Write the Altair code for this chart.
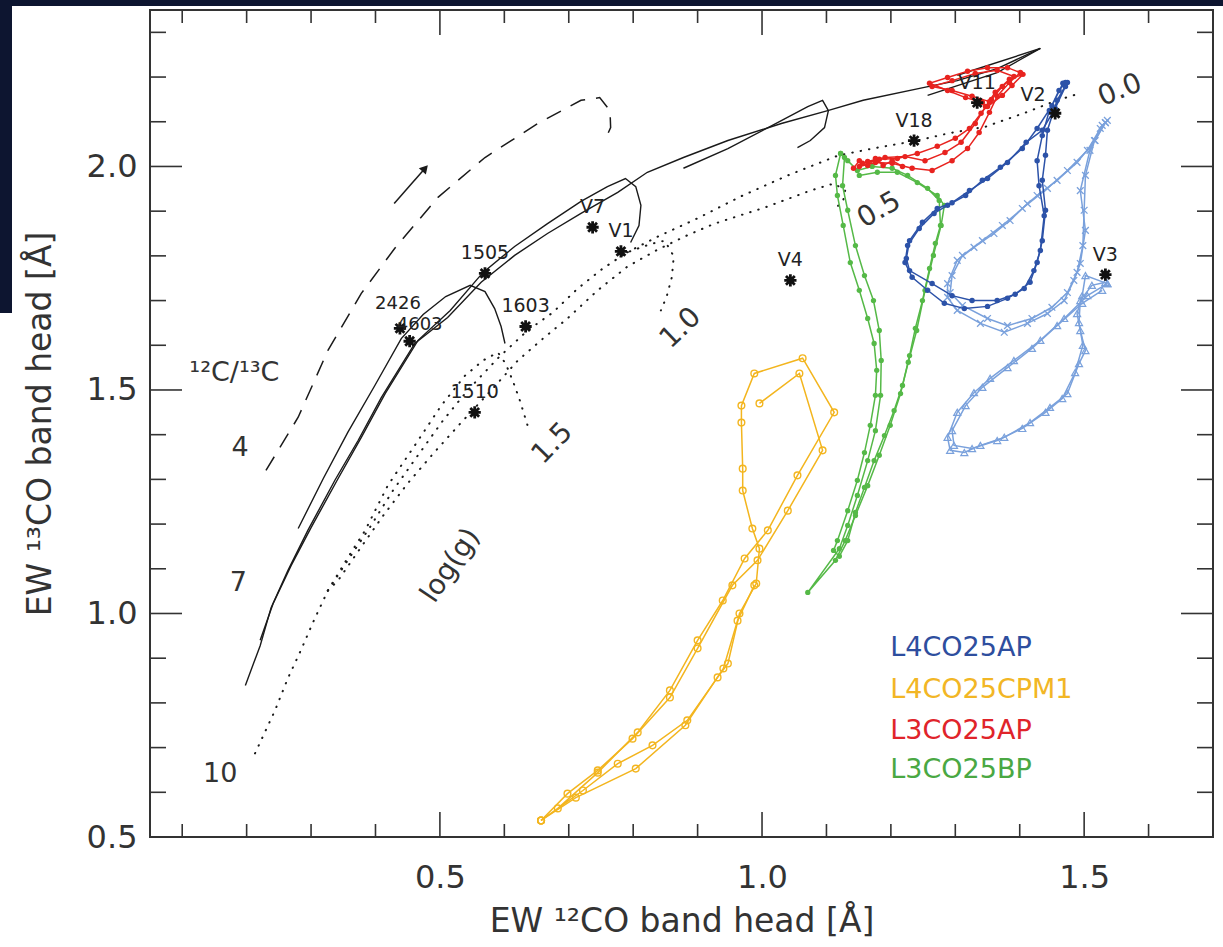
import altair as alt
import pandas as pd

FONT = "DejaVu Sans"
INK = "#333333"
W, H = 1063, 827

# ---------------- axis ticks ----------------
x_major = [0.5, 1.0, 1.5]
x_minor = [0.1, 0.2, 0.3, 0.4, 0.6, 0.7, 0.8, 0.9, 1.1, 1.2, 1.3, 1.4, 1.6]
y_major = [0.5, 1.0, 1.5, 2.0]
y_minor = [0.6, 0.7, 0.8, 0.9, 1.1, 1.2, 1.3, 1.4, 1.6, 1.7, 1.8, 1.9, 2.1, 2.2, 2.3]

# ---------------- black model tracks ----------------
solid_00 = [(0.198, 0.839), (0.221, 0.928), (0.238, 1.013), (0.264, 1.096), (0.295, 1.186), (0.337, 1.298),
            (0.373, 1.387), (0.409, 1.483), (0.461, 1.604), (0.512, 1.662), (0.564, 1.741), (0.616, 1.801),
            (0.667, 1.850), (0.719, 1.895), (0.776, 1.942), (0.822, 1.987), (0.878, 2.020), (0.947, 2.058),
            (1.030, 2.096), (1.102, 2.125), (1.157, 2.148), (1.252, 2.177), (1.303, 2.192), (1.365, 2.219),
            (1.432, 2.264)]
solid_10 = [(0.221, 0.940), (0.241, 1.022), (0.269, 1.107), (0.300, 1.192), (0.342, 1.302), (0.378, 1.394),
            (0.415, 1.492), (0.466, 1.611), (0.516, 1.678), (0.567, 1.763), (0.616, 1.821), (0.667, 1.872),
            (0.719, 1.922), (0.760, 1.955), (0.788, 1.973), (0.804, 1.955), (0.812, 1.913), (0.809, 1.868),
            (0.796, 1.830)]
solid_15 = [(0.280, 1.190), (0.319, 1.302), (0.357, 1.405), (0.399, 1.510), (0.440, 1.615), (0.474, 1.669),
            (0.509, 1.709), (0.547, 1.734), (0.570, 1.720), (0.585, 1.682), (0.595, 1.642), (0.601, 1.604)]
solid_05 = [(0.878, 1.996), (0.947, 2.040), (1.016, 2.092), (1.071, 2.134), (1.094, 2.148), (1.103, 2.125),
            (1.097, 2.087), (1.075, 2.058), (1.055, 2.042)]
solid_w1 = [(1.257, 2.159), (1.365, 2.210), (1.432, 2.264)]
solid_w2 = [(1.303, 2.204), (1.432, 2.264)]

dashed_4 = [(0.230, 1.320), (0.280, 1.439), (0.326, 1.588), (0.378, 1.716), (0.430, 1.817), (0.497, 1.931),
            (0.570, 2.020), (0.652, 2.096), (0.719, 2.148), (0.748, 2.154), (0.764, 2.125), (0.765, 2.087),
            (0.756, 2.058)]
arrow = [(0.429, 1.917), (0.477, 1.996)]

dotted_15 = [(0.213, 0.687), (0.244, 0.783), (0.264, 0.855), (0.284, 0.917), (0.303, 0.980), (0.326, 1.051),
             (0.357, 1.125), (0.384, 1.186), (0.419, 1.286), (0.461, 1.376), (0.502, 1.465), (0.539, 1.532),
             (0.567, 1.566), (0.590, 1.584), (0.602, 1.559), (0.613, 1.521), (0.624, 1.477), (0.636, 1.421)]
dotted_10 = [(0.326, 1.051), (0.357, 1.119), (0.391, 1.192), (0.427, 1.275), (0.466, 1.354), (0.505, 1.432),
             (0.543, 1.499), (0.590, 1.571), (0.636, 1.633), (0.675, 1.673), (0.714, 1.727), (0.753, 1.772),
             (0.791, 1.808), (0.826, 1.826), (0.849, 1.834), (0.863, 1.799), (0.860, 1.752), (0.852, 1.709),
             (0.843, 1.678)]
dotted_05 = [(0.326, 1.051), (0.342, 1.074), (0.376, 1.145), (0.412, 1.219), (0.450, 1.291), (0.491, 1.360),
             (0.533, 1.427), (0.582, 1.503), (0.621, 1.566), (0.660, 1.615), (0.698, 1.660), (0.745, 1.723),
             (0.791, 1.776), (0.838, 1.814), (0.884, 1.846), (0.926, 1.872), (1.004, 1.908), (1.075, 1.946),
             (1.112, 1.962), (1.129, 1.946), (1.126, 1.924), (1.114, 1.906)]
dotted_00 = [(0.791, 1.808), (0.838, 1.843), (0.900, 1.884), (0.967, 1.933), (1.040, 1.980), (1.119, 2.025),
             (1.179, 2.042), (1.241, 2.058), (1.289, 2.074), (1.347, 2.089), (1.410, 2.121), (1.458, 2.148),
             (1.492, 2.163)]

# ---------------- coloured model runs ----------------
red_runs = {
    "r1": [(1.151, 2.000), (1.176, 2.009), (1.202, 2.007), (1.233, 1.996), (1.264, 1.991), (1.295, 2.013),
           (1.319, 2.040), (1.337, 2.076), (1.353, 2.121), (1.365, 2.157), (1.384, 2.188), (1.401, 2.210),
           (1.381, 2.221), (1.350, 2.221), (1.319, 2.213), (1.288, 2.199), (1.260, 2.186), (1.288, 2.170),
           (1.316, 2.154), (1.342, 2.143)],
    "r2": [(1.156, 2.007), (1.182, 2.016), (1.210, 2.018), (1.241, 2.029), (1.272, 2.045), (1.300, 2.063),
           (1.322, 2.085), (1.340, 2.119), (1.356, 2.150), (1.373, 2.179), (1.391, 2.201), (1.365, 2.215),
           (1.331, 2.208), (1.295, 2.192), (1.264, 2.179), (1.295, 2.170), (1.326, 2.157), (1.353, 2.145)],
    "r3": [(1.164, 2.011), (1.191, 2.020), (1.222, 2.022), (1.253, 2.013), (1.284, 2.031), (1.309, 2.054),
           (1.331, 2.096), (1.347, 2.134), (1.362, 2.166), (1.384, 2.195), (1.405, 2.206), (1.388, 2.181),
           (1.373, 2.159), (1.350, 2.134)],
    "r4": [(1.142, 1.996), (1.151, 2.013), (1.164, 2.002), (1.176, 2.018), (1.188, 2.002), (1.202, 2.013),
           (1.218, 2.000)],
}
darkblue_runs = {
    "b1": [(1.467, 2.186), (1.450, 2.136), (1.427, 2.085), (1.404, 2.040), (1.370, 1.998), (1.342, 1.969),
           (1.316, 1.935), (1.288, 1.913), (1.267, 1.895), (1.244, 1.861), (1.226, 1.823), (1.222, 1.785),
           (1.233, 1.752), (1.257, 1.723), (1.283, 1.694), (1.314, 1.682), (1.350, 1.687), (1.381, 1.705),
           (1.407, 1.727), (1.422, 1.767), (1.432, 1.812), (1.438, 1.890), (1.430, 1.957), (1.427, 2.013),
           (1.435, 2.069), (1.446, 2.125), (1.461, 2.170), (1.471, 2.188)],
    "b2": [(1.471, 2.179), (1.455, 2.130), (1.435, 2.081), (1.410, 2.054), (1.381, 2.009), (1.350, 1.973),
           (1.322, 1.946), (1.295, 1.919), (1.272, 1.906), (1.249, 1.875), (1.229, 1.834), (1.224, 1.794),
           (1.229, 1.767), (1.264, 1.738), (1.295, 1.711), (1.326, 1.700), (1.365, 1.700), (1.393, 1.714),
           (1.416, 1.741), (1.427, 1.785), (1.435, 1.834), (1.440, 1.902), (1.435, 1.969), (1.440, 2.025),
           (1.443, 2.081), (1.458, 2.148), (1.474, 2.188)],
}
lightblue_x_runs = {
    "x1": [(1.533, 2.098), (1.517, 2.058), (1.489, 2.009), (1.458, 1.969), (1.427, 1.935), (1.412, 1.917),
           (1.385, 1.879), (1.360, 1.850), (1.329, 1.819), (1.303, 1.790), (1.288, 1.738), (1.288, 1.707),
           (1.303, 1.678), (1.339, 1.649), (1.376, 1.629), (1.412, 1.649), (1.443, 1.671), (1.469, 1.700),
           (1.484, 1.745), (1.494, 1.783), (1.502, 1.857), (1.494, 1.946), (1.509, 2.036), (1.525, 2.085),
           (1.536, 2.103)],
    "x2": [(1.528, 2.092), (1.505, 2.036), (1.474, 1.991), (1.443, 1.951), (1.404, 1.906), (1.373, 1.868),
           (1.342, 1.834), (1.311, 1.801), (1.295, 1.756), (1.292, 1.718), (1.311, 1.689), (1.350, 1.660),
           (1.381, 1.644), (1.419, 1.660), (1.450, 1.685), (1.474, 1.718), (1.489, 1.763), (1.498, 1.823),
           (1.500, 1.902), (1.502, 1.980), (1.516, 2.058), (1.533, 2.098)],
}
lightblue_t_runs = {
    "t1": [(1.536, 1.738), (1.505, 1.711), (1.469, 1.660), (1.432, 1.611), (1.391, 1.566), (1.354, 1.526),
           (1.329, 1.494), (1.303, 1.450), (1.288, 1.394), (1.292, 1.365), (1.314, 1.360), (1.339, 1.376),
           (1.376, 1.394), (1.416, 1.427), (1.447, 1.461), (1.474, 1.492), (1.492, 1.559), (1.502, 1.588),
           (1.494, 1.633), (1.489, 1.671), (1.497, 1.711), (1.502, 1.756), (1.536, 1.738)],
    "t2": [(1.528, 1.723), (1.497, 1.694), (1.458, 1.644), (1.419, 1.593), (1.381, 1.550), (1.342, 1.506),
           (1.316, 1.465), (1.295, 1.409), (1.298, 1.376), (1.326, 1.369), (1.365, 1.387), (1.404, 1.414),
           (1.440, 1.450), (1.466, 1.481), (1.486, 1.539), (1.498, 1.600), (1.492, 1.651), (1.494, 1.700),
           (1.512, 1.734), (1.533, 1.741)],
}
green_runs = {
    "g1": [(1.122, 2.029), (1.114, 1.980), (1.117, 1.935), (1.126, 1.868), (1.137, 1.785), (1.151, 1.723),
           (1.164, 1.660), (1.174, 1.604), (1.178, 1.544), (1.176, 1.488), (1.168, 1.421), (1.159, 1.360),
           (1.148, 1.298), (1.133, 1.230), (1.117, 1.163), (1.111, 1.141), (1.120, 1.128), (1.133, 1.163),
           (1.145, 1.226), (1.159, 1.282), (1.174, 1.342), (1.190, 1.398), (1.205, 1.454), (1.218, 1.510),
           (1.229, 1.577), (1.238, 1.638), (1.249, 1.700), (1.260, 1.772), (1.269, 1.828), (1.277, 1.868),
           (1.275, 1.924), (1.257, 1.951), (1.226, 1.980), (1.202, 1.996), (1.171, 2.000), (1.148, 1.991),
           (1.133, 2.013), (1.122, 2.029)],
    "g2": [(1.128, 2.020), (1.125, 1.957), (1.133, 1.902), (1.145, 1.823), (1.159, 1.756), (1.173, 1.700),
           (1.182, 1.633), (1.185, 1.566), (1.184, 1.488), (1.176, 1.409), (1.164, 1.342), (1.148, 1.264),
           (1.133, 1.197), (1.120, 1.145), (1.071, 1.047), (1.114, 1.119), (1.129, 1.163), (1.145, 1.219),
           (1.164, 1.286), (1.182, 1.354), (1.199, 1.421), (1.215, 1.492), (1.227, 1.562), (1.240, 1.633),
           (1.253, 1.723), (1.266, 1.801), (1.278, 1.868), (1.283, 1.913), (1.272, 1.935), (1.241, 1.964),
           (1.210, 1.987), (1.179, 1.987), (1.151, 1.980)],
}
yellow_runs = {
    "y1": [(0.996, 1.470), (1.058, 1.537), (1.094, 1.365), (1.040, 1.230), (0.993, 1.119), (0.954, 1.063),
           (0.900, 0.922), (0.857, 0.812), (0.799, 0.720), (0.745, 0.649), (0.698, 0.597), (0.657, 0.537)],
    "y2": [(0.657, 0.537), (0.722, 0.604), (0.776, 0.664), (0.830, 0.705), (0.884, 0.761), (0.931, 0.857),
           (0.947, 0.888), (0.965, 1.000), (0.991, 1.067), (0.996, 1.145), (0.985, 1.190), (0.970, 1.275),
           (0.970, 1.324), (0.968, 1.427), (0.968, 1.465), (0.988, 1.537), (1.063, 1.571), (1.112, 1.450),
           (1.055, 1.309), (1.009, 1.186), (0.973, 1.123), (0.939, 1.029), (0.900, 0.940), (0.857, 0.828),
           (0.807, 0.734), (0.745, 0.644), (0.683, 0.564), (0.657, 0.537)],
    "y3": [(0.657, 0.537), (0.711, 0.588), (0.804, 0.653), (0.881, 0.750), (0.940, 0.877), (0.962, 0.984),
           (0.988, 1.063)],
}

# ---------------- observed stars ----------------
star_names = ["V11", "V18", "V3", "V4", "V7", "V1", "1505", "1603", "1510"]
star_x = [1.334, 1.236, 1.533, 1.044, 0.737, 0.781, 0.570, 0.633, 0.554]
star_y = [2.143, 2.058, 1.758, 1.745, 1.864, 1.810, 1.761, 1.642, 1.450]
star2_names = ["V2"]
star2_x = [1.455]
star2_y = [2.119]
star3_names = ["2426"]
star3_x = [0.438]
star3_y = [1.638]
star4_names = ["4603"]
star4_x = [0.453]
star4_y = [1.609]

# ---------------- annotations ----------------
ratio_text = ["¹²C/¹³C", "4", "7", "10"]
ratio_x = [0.181, 0.190, 0.187, 0.159]
ratio_y = [1.539, 1.371, 1.069, 0.642]

logg_text = ["log(g)", "1.5", "1.0", "0.5", "0.0"]
logg_x = [0.517, 0.675, 0.874, 1.182, 1.556]
logg_y = [1.107, 1.380, 1.638, 1.902, 2.170]
logg_angle = [304, 314, 316, 330, 338]

legend_names = ["L4CO25AP", "L4CO25CPM1", "L3CO25AP", "L3CO25BP"]
legend_x = [1.199, 1.199, 1.199, 1.199]
legend_y = [0.922, 0.828, 0.738, 0.649]

C_DARKBLUE = "#2c52a8"
C_LIGHTBLUE = "#7aa1dc"
C_RED = "#e8231f"
C_GREEN = "#55b947"
C_YELLOW = "#f3b51e"

# ---------------- scales / axes ----------------
xs = alt.Scale(domain=[0.05, 1.70], nice=False, zero=False)
ys = alt.Scale(domain=[0.5, 2.35], nice=False, zero=False)
xaxis = alt.Axis(values=x_major, format=".1f", ticks=False, tickSize=0, domain=False, grid=False,
                 labelFont=FONT, labelFontSize=32, labelColor=INK, labelPadding=40, labelBaseline="middle",
                 labelFlush=False, labelOverlap=False,
                 title="EW ¹²CO band head [Å]", titleFont=FONT, titleFontSize=33, titleFontWeight="normal",
                 titleColor=INK, titleX=W / 2, titleY=84, titleBaseline="middle", titleAlign="center")
yaxis = alt.Axis(values=y_major, format=".1f", ticks=False, tickSize=0, domain=False, grid=False,
                 labelFont=FONT, labelFontSize=32, labelColor=INK, labelPadding=13,
                 labelFlush=False, labelOverlap=False,
                 title="EW ¹³CO band head [Å]", titleFont=FONT, titleFontSize=33, titleFontWeight="normal",
                 titleColor=INK, titleX=-110, titleY=H / 2, titleAngle=270, titleBaseline="middle",
                 titleAlign="center")
X = alt.X("x:Q", scale=xs, axis=xaxis)
Y = alt.Y("y:Q", scale=ys, axis=yaxis)


def frame(tracks):
    rows = []
    for name, pts in tracks.items():
        for i, (x, y) in enumerate(pts):
            rows.append({"track": name, "i": i, "x": x, "y": y})
    return pd.DataFrame(rows)


def lines(tracks, **style):
    return alt.Chart(frame(tracks)).mark_line(**style).encode(
        x=X, y=Y, detail="track:N", order="i:Q")


def run(tracks, color, shape, filled, size, sw=1.5, psw=1.3):
    df = frame(tracks)
    base = alt.Chart(df).encode(x=X, y=Y, detail="track:N", order="i:Q")
    ln = base.mark_line(color=color, strokeWidth=sw)
    pt = base.mark_point(shape=shape, filled=filled, color=color, size=size, strokeWidth=psw, opacity=1)
    return [ln, pt]


def star_labels(names, xs_, ys_, dx, dy, size=19):
    d = pd.DataFrame({"name": names, "x": xs_, "y": ys_})
    return alt.Chart(d).mark_text(font=FONT, fontSize=size, color="#222222", dx=dx, dy=dy).encode(
        x=X, y=Y, text="name:N")


layers = []

# dark margin of the original slide
blank = pd.DataFrame({"a": [0]})
layers.append(alt.Chart(blank).mark_rect(color="#0d1530").encode(
    x=alt.value(-150), x2=alt.value(W + 10), y=alt.value(-10), y2=alt.value(-4)))
layers.append(alt.Chart(blank).mark_rect(color="#0d1530").encode(
    x=alt.value(-150), x2=alt.value(-138), y=alt.value(-10), y2=alt.value(303)))

# inward ticks on all four sides
for vals, ln in ((x_major, 25), (x_minor, 13)):
    d = pd.DataFrame({"x": vals})
    r = alt.Chart(d).mark_rule(color=INK, strokeWidth=1.6)
    layers.append(r.encode(x=X, y=alt.value(H), y2=alt.value(H - ln)))
    layers.append(r.encode(x=X, y=alt.value(0), y2=alt.value(ln)))
for vals, ln in ((y_major, 32), (y_minor, 16)):
    d = pd.DataFrame({"y": vals})
    r = alt.Chart(d).mark_rule(color=INK, strokeWidth=1.6)
    layers.append(r.encode(y=Y, x=alt.value(0), x2=alt.value(ln)))
    layers.append(r.encode(y=Y, x=alt.value(W), x2=alt.value(W - ln)))

# black model tracks
layers.append(lines({"a": solid_00, "b": solid_10, "c": solid_15, "d": solid_05, "e": solid_w1, "f": solid_w2},
                    color="#1a1a1a", strokeWidth=1.4))
layers.append(lines({"a": dotted_15, "b": dotted_10, "c": dotted_05, "d": dotted_00},
                    color="#1a1a1a", strokeWidth=2.0, strokeDash=[0.5, 8], strokeCap="round"))
layers.append(lines({"a": dashed_4}, color="#1a1a1a", strokeWidth=1.5, strokeDash=[16, 11]))
layers.append(lines({"a": arrow}, color="#1a1a1a", strokeWidth=1.5))
layers.append(alt.Chart(pd.DataFrame({"x": [arrow[1][0]], "y": [arrow[1][1]]})).mark_point(
    shape="triangle-up", angle=42, filled=True, color="#1a1a1a", size=90, opacity=1).encode(x=X, y=Y))

# coloured runs
layers += run(yellow_runs, C_YELLOW, "circle", False, 45, psw=1.4)
layers += run(green_runs, C_GREEN, "circle", True, 28)
layers += run(lightblue_t_runs, C_LIGHTBLUE, "triangle-up", False, 50, psw=1.2)
layers += run(lightblue_x_runs, C_LIGHTBLUE, "M-1,-1L1,1M-1,1L1,-1", False, 45, psw=1.3)
layers += run(darkblue_runs, C_DARKBLUE, "circle", True, 30)
layers += run(red_runs, C_RED, "circle", True, 30)

# stars
ASTERISK = "M-1,0L1,0M0,-1L0,1M-0.72,-0.72L0.72,0.72M-0.72,0.72L0.72,-0.72"
stars = pd.DataFrame({"x": star_x + star2_x + star3_x + star4_x,
                      "y": star_y + star2_y + star3_y + star4_y})
layers.append(alt.Chart(stars).mark_point(shape=ASTERISK, filled=False, color="#111111", size=150,
                                          strokeWidth=2.8, opacity=1).encode(x=X, y=Y))
layers.append(star_labels(star_names, star_x, star_y, 0, -20))
layers.append(star_labels(star2_names, star2_x, star2_y, -22, -18))
layers.append(star_labels(star3_names, star3_x, star3_y, -2, -24, 18))
layers.append(star_labels(star4_names, star4_x, star4_y, 10, -16, 18))

# annotations
ratio_df = pd.DataFrame({"t": ratio_text, "x": ratio_x, "y": ratio_y})
layers.append(alt.Chart(ratio_df).mark_text(font=FONT, fontSize=27, color=INK).encode(x=X, y=Y, text="t:N"))
for t, x, y, a in zip(logg_text, logg_x, logg_y, logg_angle):
    d = pd.DataFrame({"t": [t], "x": [x], "y": [y]})
    layers.append(alt.Chart(d).mark_text(font=FONT, fontSize=28, color=INK, angle=a).encode(
        x=X, y=Y, text="t:N"))

# legend text
leg = pd.DataFrame({"t": legend_names, "x": legend_x, "y": legend_y})
layers.append(alt.Chart(leg).mark_text(font=FONT, fontSize=27, align="left", baseline="middle").encode(
    x=X, y=Y, text="t:N",
    color=alt.Color("t:N", scale=alt.Scale(domain=legend_names,
                                           range=["#2e4e9e", "#f2b625", "#e0242a", "#4aa843"]),
                    legend=None)))

chart = alt.layer(*layers).properties(
    width=W, height=H,
    padding={"left": 150, "top": 10, "right": 10, "bottom": 110},
    autosize=alt.AutoSizeParams(type="none"),
    background="white",
).configure_view(stroke=INK, strokeWidth=2)

chart.save("out.html", embed_options={"renderer": "svg", "actions": False})
